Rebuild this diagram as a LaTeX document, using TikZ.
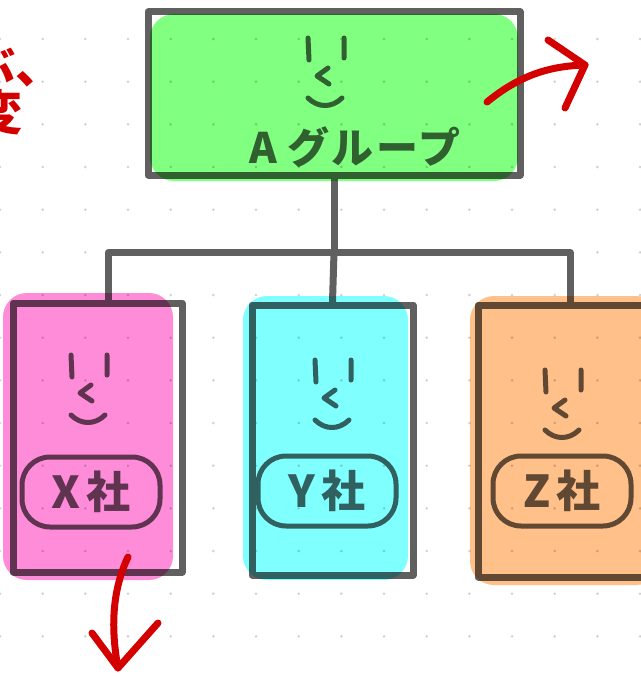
\documentclass[tikz,border=0pt]{standalone}
\usepackage{fontspec}
\newfontfamily\jp{Noto Sans CJK JP}
\definecolor{pen}{HTML}{606060}
\definecolor{dotgray}{HTML}{D0D0D0}
\definecolor{redpen}{HTML}{D40000}
\definecolor{agreen}{HTML}{80FF80}
\definecolor{xpink}{HTML}{FF8CD8}
\definecolor{ycyan}{HTML}{80FFFF}
\definecolor{zorange}{HTML}{FFC08A}
\begin{document}
\begin{tikzpicture}[x=1pt, y=-1pt, line cap=round, line join=round,
  card/.style={draw=pen, line width=7pt, inner sep=0pt},
  tag/.style={draw=pen, line width=5pt, rounded corners=28pt, inner sep=0pt,
    minimum width=138pt, minimum height=70pt, text=pen,
    font=\jp\bfseries\fontsize{44}{44}\selectfont},
  wire/.style={draw=pen, line width=7pt},
  marker/.style={draw=redpen, line width=7pt},
  paint/.style={fill=#1, blend mode=multiply, rounded corners=24pt},
  face/.pic={
    \draw[pen, line width=5pt] (-18,0) -- (-17,22) (18,0) -- (18,20)
      (2,30) -- (-9,38) -- (3,46)
      (-18,60) .. controls (-8,70) and (6,70) .. (16,60);
  }]
\useasboundingbox (0,0) rectangle (640,677);
% dot grid
\foreach \i in {0,...,15}
  \foreach \j in {0,...,14}
    \fill[dotgray] (\i*42.67, 39+\j*42.67) circle (1.4);

% group and companies
\node[card, minimum width=372pt, minimum height=163pt] (agroup) at (334,93.5) {};
\node[card, minimum width=169pt, minimum height=269pt] (xco) at (97.5,437.5) {};
\node[card, minimum width=161pt, minimum height=270pt] (yco) at (332.5,440) {};
\node[card, minimum width=172pt, minimum height=272pt] (zco) at (564,441) {};

\draw[wire] (agroup.south) -- ++(0,74) coordinate (fork);
\draw[wire] ([xshift=10.5pt]xco.north) |- (fork) -| ([xshift=6pt]zco.north);
\draw[wire] (fork) -- (yco.north);

\path (326,38) pic {face};
\path (89,355) pic {face};
\path (333,360) pic {face};
\path (563,370) pic {face};

\node[text=pen, font=\jp\bfseries\fontsize{42}{42}\selectfont] (aname) at (355,147)
  {\addfontfeature{LetterSpace=6}A\hspace{10pt}グループ};
\node[tag] (xtag) at (91,492) {X\hspace{6pt}社};
\node[tag] (ytag) at (327,491) {Y\hspace{6pt}社};
\node[tag] (ztag) at (562,491) {Z\hspace{6pt}社};

% colour on top
\fill[paint=agreen] (150,14) rectangle (518,181);
\fill[paint=xpink] (3,293) rectangle (173,580);
\fill[paint=ycyan] (243,296) rectangle (408,580);
\fill[paint=zorange] (470,296) rectangle (660,585);

% red notes
\node[anchor=west, inner sep=0pt, text=redpen, font=\jp\bfseries\fontsize{48}{48}\selectfont] (memo1) at (-33,66) {ぶ、};
\node[anchor=west, inner sep=0pt, text=redpen, font=\jp\bfseries\fontsize{48}{48}\selectfont] (memo2) at (-26,112) {変};
\coordinate (outa) at (487,102);
\coordinate (tipa) at (585,65);
\draw[marker] (outa) .. controls (520,75) and (550,66) .. (tipa);
\draw[marker] (548,40) -- (tipa) -- (565,108);
\coordinate (outx) at (128,557);
\coordinate (tipx) at (118,668);
\draw[marker] (outx) .. controls (110,595) and (112,635) .. (tipx);
\draw[marker] (92,633) -- (tipx) -- (158,623);
\end{tikzpicture}
\end{document}
